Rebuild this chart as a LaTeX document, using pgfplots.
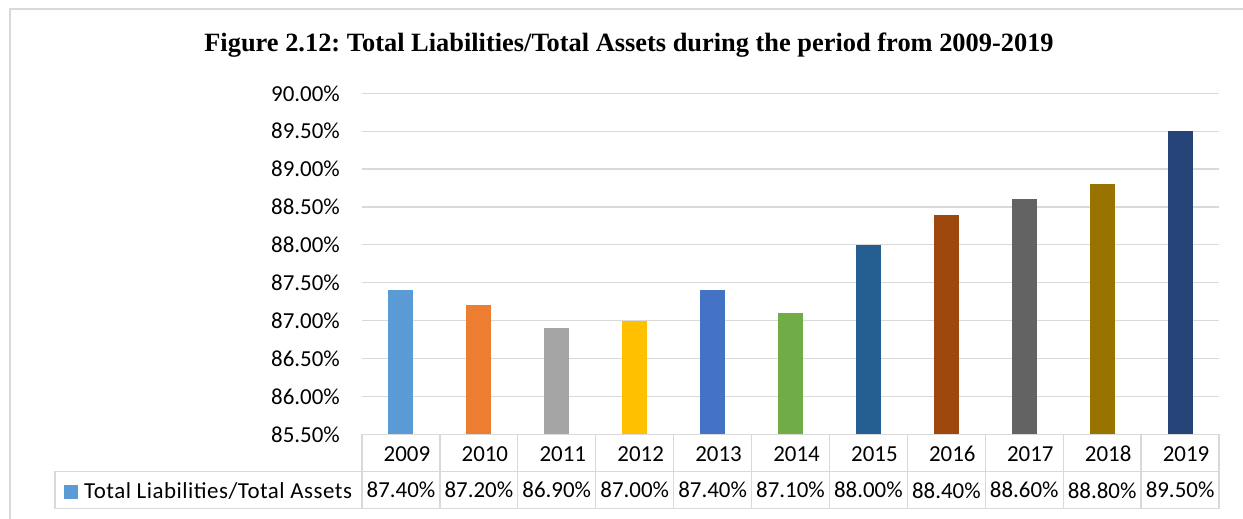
\documentclass[border=0pt]{standalone}
\usepackage{fontspec}
\setmainfont{Carlito}
\newfontfamily\titlefont{Liberation Serif}
\newfontfamily\legfont[LetterSpace=2.2]{Carlito}
\usepackage{pgfplots}
\pgfplotsset{compat=1.18}
\definecolor{c1}{HTML}{5B9BD5}
\definecolor{c2}{HTML}{ED7D31}
\definecolor{c3}{HTML}{A5A5A5}
\definecolor{c4}{HTML}{FFC000}
\definecolor{c5}{HTML}{4472C4}
\definecolor{c6}{HTML}{70AD47}
\definecolor{c7}{HTML}{255E91}
\definecolor{c8}{HTML}{9E480E}
\definecolor{c9}{HTML}{636363}
\definecolor{c10}{HTML}{997300}
\definecolor{c11}{HTML}{264478}
\definecolor{gridc}{HTML}{D9D9D9}
\frenchspacing
\begin{document}
\begin{tikzpicture}[x=1bp,y=1bp]
\useasboundingbox (0,0) rectangle (1243,519);
\draw[gridc, line width=1.5bp] (10,0) -- (10,510) -- (1243,510);
\node[font=\titlefont\bfseries\fontsize{26.5}{30}\selectfont] at (629,474) {Figure 2.12: Total Liabilities/Total Assets during the period from 2009-2019};
\begin{axis}[
  at={(362bp,84.7bp)}, anchor=south west,
  width=857bp, height=341bp, scale only axis,
  xmin=-0.5, xmax=10.5, ymin=85.5, ymax=90,
  ytick={85.5,86,86.5,87,87.5,88,88.5,89,89.5,90},
  yticklabels={85.50\%,86.00\%,86.50\%,87.00\%,87.50\%,88.00\%,88.50\%,89.00\%,89.50\%,90.00\%},
  ymajorgrids, grid style={gridc, line width=1.3bp},
  axis line style={draw=none}, major tick length=0pt,
  tick label style={font=\fontsize{23}{37}\selectfont},
  yticklabel style={inner sep=0pt, xshift=-22bp},
  xtick={0,1,2,3,4,5,6,7,8,9,10},
  xticklabels={
    {\hspace*{12bp}2009\\87.40\%},
    {\hspace*{12bp}2010\\87.20\%},
    {\hspace*{12bp}2011\\86.90\%},
    {\hspace*{12bp}2012\\87.00\%},
    {\hspace*{12bp}2013\\87.40\%},
    {\hspace*{12bp}2014\\87.10\%},
    {\hspace*{12bp}2015\\88.00\%},
    {\hspace*{12bp}2016\\88.40\%},
    {\hspace*{12bp}2017\\88.60\%},
    {\hspace*{12bp}2018\\88.80\%},
    {\hspace*{12bp}2019\\89.50\%}},
  xticklabel style={align=center, anchor=north, inner sep=0pt, yshift=-11.7bp},
  every axis plot/.append style={ybar, bar width=25bp, bar shift=0pt, draw=none},
]
\addplot[fill=c1] coordinates {(0,87.4)};
\addplot[fill=c2] coordinates {(1,87.2)};
\addplot[fill=c3] coordinates {(2,86.9)};
\addplot[fill=c4] coordinates {(3,87.0)};
\addplot[fill=c5] coordinates {(4,87.4)};
\addplot[fill=c6] coordinates {(5,87.1)};
\addplot[fill=c7] coordinates {(6,88.0)};
\addplot[fill=c8] coordinates {(7,88.4)};
\addplot[fill=c9] coordinates {(8,88.6)};
\addplot[fill=c10] coordinates {(9,88.8)};
\addplot[fill=c11] coordinates {(10,89.5)};
\end{axis}
\foreach \i in {0,...,11} \draw[gridc, line width=1.3bp] (362+\i*77.909,84.7) -- (362+\i*77.909,10.3);
\draw[gridc, line width=1.3bp] (55,47.7) -- (1219,47.7);
\draw[gridc, line width=1.3bp] (55,10.3) -- (1219,10.3);
\draw[gridc, line width=1.3bp] (55,10.3) -- (55,47.7);
\fill[c1] (64,20) rectangle (78,34);
\node[anchor=west, inner sep=0pt, font=\legfont\fontsize{23}{27}\selectfont] at (84,28) {Total Liabilities/Total Assets};
\end{tikzpicture}
\end{document}
